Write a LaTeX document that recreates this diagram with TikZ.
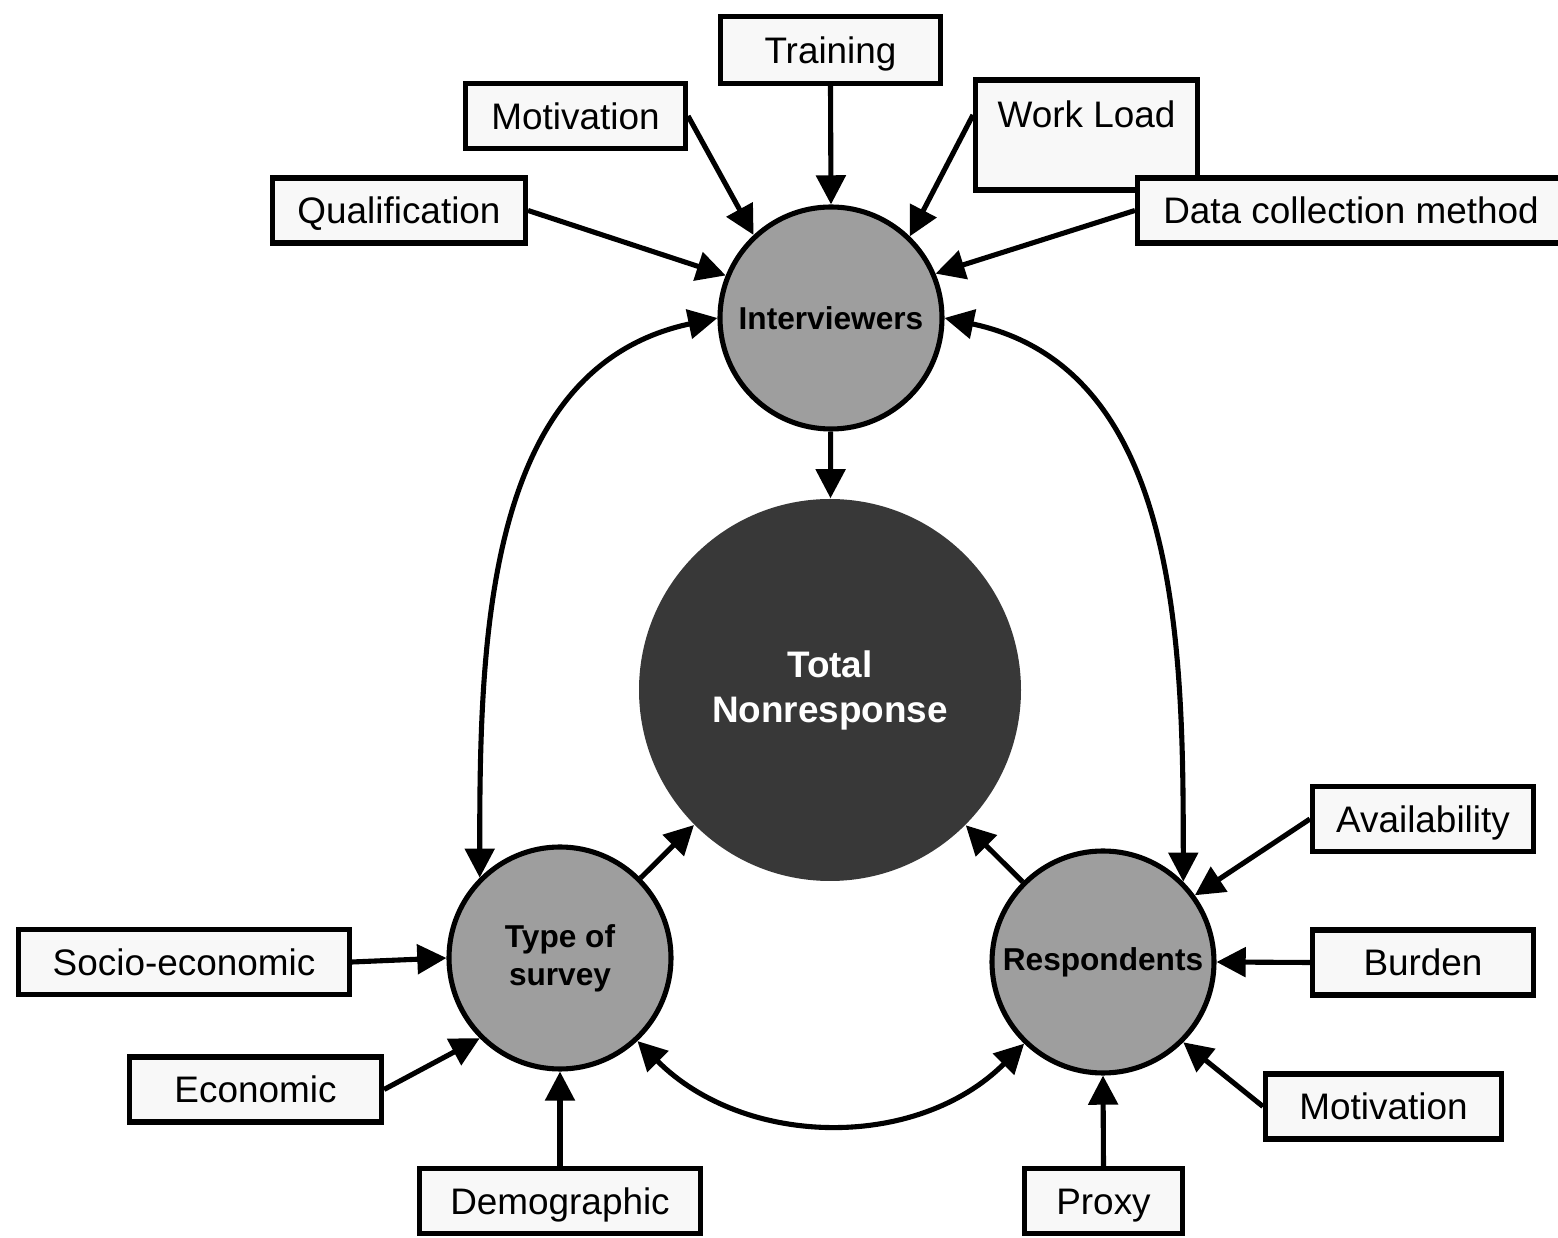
\documentclass[tikz,border=0pt]{standalone}
\usepackage{fontspec}
\setmainfont{Liberation Sans}
\usetikzlibrary{arrows.meta}
\definecolor{BoxFill}{RGB}{248,248,248}
\definecolor{GroupFill}{RGB}{158,158,158}
\definecolor{CoreFill}{RGB}{56,56,56}
\tikzset{
  factor/.style={draw, line width=1.45pt, fill=BoxFill, minimum height=0.65cm, inner sep=0pt,
    text height=7.5pt, text depth=0pt, font=\fontsize{10.5}{12.6}\selectfont},
  group/.style={circle, draw, line width=1.45pt, fill=GroupFill, minimum size=2.22cm, inner sep=0pt,
    align=center, font=\fontsize{9}{10.8}\selectfont\bfseries},
  link/.style={line width=1.45pt, -{Triangle[length=8.3pt,width=8.3pt]}},
  mutual/.style={line width=1.45pt, {Triangle[length=8.3pt,width=8.3pt]}-{Triangle[length=8.3pt,width=8.3pt]}}
}
\begin{document}
\begin{tikzpicture}
  \useasboundingbox (0,0) rectangle (15.58,12.38);

  % central circles
  \node[circle, fill=CoreFill, text=white, minimum size=3.82cm, inner sep=0pt, align=center,
        font=\fontsize{10.5}{12.8}\selectfont\bfseries] (total) at (8.30,5.48) {Total\\Nonresponse};
  \node[group] (intv) at (8.31,9.20) {Interviewers};
  \node[group] (type) at (5.60,2.80) {Type of\\survey};
  \node[group] (resp) at (11.03,2.76) {Respondents};

  % factors
  \node[factor, minimum width=2.20cm, minimum height=0.67cm] (train) at (8.305,11.88) {Training};
  \node[factor, minimum width=2.20cm] (motiv1) at (5.755,11.22) {Motivation};
  \node[factor, minimum width=2.22cm, text height=0.48cm, text depth=0.62cm] (work) at (10.865,11.03) {Work Load};
  \node[factor, minimum width=2.53cm] (qual) at (3.99,10.275) {Qualification};
  \node[factor, minimum width=4.27cm] (data) at (13.51,10.275) {Data collection method};
  \node[factor, minimum width=2.21cm] (avail) at (14.23,4.19) {Availability};
  \node[factor, minimum width=2.21cm] (burden) at (14.23,2.755) {Burden};
  \node[factor, minimum width=2.36cm] (motiv2) at (13.835,1.315) {Motivation};
  \node[factor, minimum width=1.58cm] (proxy) at (11.035,0.37) {Proxy};
  \node[factor, minimum width=2.81cm] (demo) at (5.60,0.37) {Demographic};
  \node[factor, minimum width=2.52cm] (econ) at (2.555,1.485) {Economic};
  \node[factor, minimum width=3.31cm] (socio) at (1.84,2.76) {Socio-economic};

  % into interviewers
  \draw[link] (train.south) -- (intv.north);
  \draw[link] (motiv1.east) -- (intv.133);
  \draw[link] ([yshift=2mm]work.west) -- (intv.46);
  \draw[link] (qual.east) -- (intv.158);
  \draw[link] (data.west) -- (intv.23);

  % into total
  \draw[link] (intv) -- (total);
  \draw[link] (type) -- (total);
  \draw[link] (resp) -- (total);

  % into respondents
  \draw[link] (avail.west) -- (resp.36);
  \draw[link] (burden.west) -- (resp.east);
  \draw[link] (motiv2.west) -- (resp.-45);
  \draw[link] (proxy.north) -- (resp.south);

  % into type of survey
  \draw[link] (socio.east) -- (type.west);
  \draw[link] (econ.east) -- (type.225);
  \draw[link] (demo.north) -- (type.south);

  % mutual links
  \draw[mutual] (intv.180) to[out=192, in=90] (type.135);
  \draw[mutual] (intv.0) to[out=-12, in=90] (resp.45);
  \draw[mutual] (type.-47) to[out=-45, in=-135] (resp.-134);
\end{tikzpicture}
\end{document}
